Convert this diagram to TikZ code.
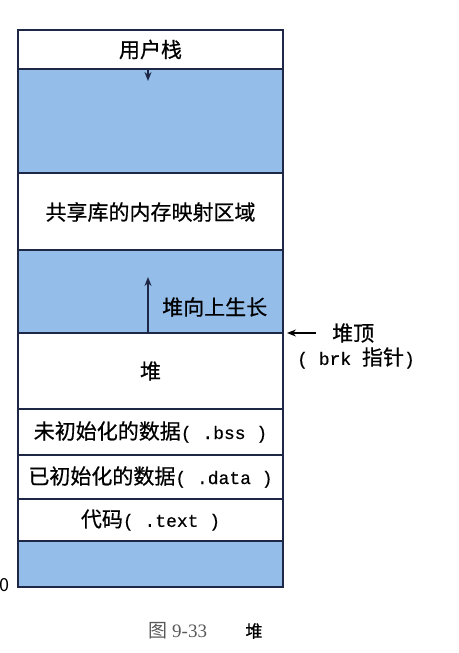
\documentclass[tikz,border=0pt]{standalone}
\usepackage{fontspec}
\setmainfont{Noto Sans CJK SC}[FakeBold=0.6]
\newfontfamily\monofont{Liberation Mono}[FakeBold=0.4]
\newfontfamily\capfont{Liberation Serif}
\newfontfamily\capcjk{Noto Sans CJK SC}
\usetikzlibrary{positioning, arrows.meta}
\definecolor{gapblue}{RGB}{148,190,233}
\definecolor{edge}{RGB}{30,40,70}

\begin{document}
\begin{tikzpicture}[x=1pt, y=-1pt, >={Stealth[length=9pt, width=7pt]},
    seg/.style={draw=edge, line width=1.1pt, fill=white, minimum width=265pt, inner sep=0pt,
        font=\fontsize{21}{21}\selectfont},
    gap/.style={seg, fill=gapblue},
    lbl/.style={inner sep=0pt, font=\fontsize{21}{21}\selectfont}]
    \useasboundingbox (0,0) rectangle (458,653);

    % memory regions, top to bottom
    \node[seg, minimum height=39pt] (stack) at (150.5,49.5) {用户栈};
    \node[gap, minimum height=104pt] (gapa) at (150.5,121) {};
    \node[seg, minimum height=77pt] (shlib) at (150.5,212) {共享库的内存映射区域};
    \node[gap, minimum height=83pt] (gapb) at (150.5,291.5) {};
    \node[seg, minimum height=76pt] (heap) at (150.5,371) {堆};
    \node[seg, minimum height=46pt] (bss) at (150.5,432) {未初始化的数据{\monofont\fontsize{18}{18}\selectfont( .bss )}};
    \node[seg, minimum height=44pt] (data) at (150.5,477) {已初始化的数据{\monofont\fontsize{18}{18}\selectfont( .data )}};
    \node[seg, minimum height=42pt] (text) at (150.5,520) {代码{\monofont\fontsize{18}{18}\selectfont( .text )}};
    \node[gap, minimum height=46pt] (gapc) at (150.5,564) {};

    % growth arrows
    \coordinate (downtip) at (148,81);
    \draw[->, line width=1.5pt, edge] (stack.south -| downtip) -- (downtip);
    \coordinate (uptip) at (148,277);
    \draw[->, line width=1.5pt, edge] (heap.north -| uptip) -- (uptip);
    \node[lbl, anchor=west] (grow) at (162,307) {堆向上生长};

    % brk pointer
    \node[lbl, anchor=west] (brktop) at (332,333) {堆顶};
    \node[lbl] (brk) at (356,358) {{\monofont\fontsize{18}{18}\selectfont( brk }指针{\monofont\fontsize{18}{18}\selectfont )}};
    \coordinate (brkend) at (287,333);
    \draw[->, line width=1.3pt, shorten <=16pt] (brktop.west) -- (brkend);

    \node[lbl, font=\fontsize{18}{18}\selectfont] (zero) at (4,585) {\capcjk 0};

    % caption
    \node[inner sep=0pt, font=\fontsize{19}{19}\selectfont, text=black!65] (fig) at (178,631) {\capcjk 图\ {\capfont 9-33}};
    \node[inner sep=0pt, font=\fontsize{17}{17}\selectfont] (figname) at (254,631) {堆};
\end{tikzpicture}
\end{document}
